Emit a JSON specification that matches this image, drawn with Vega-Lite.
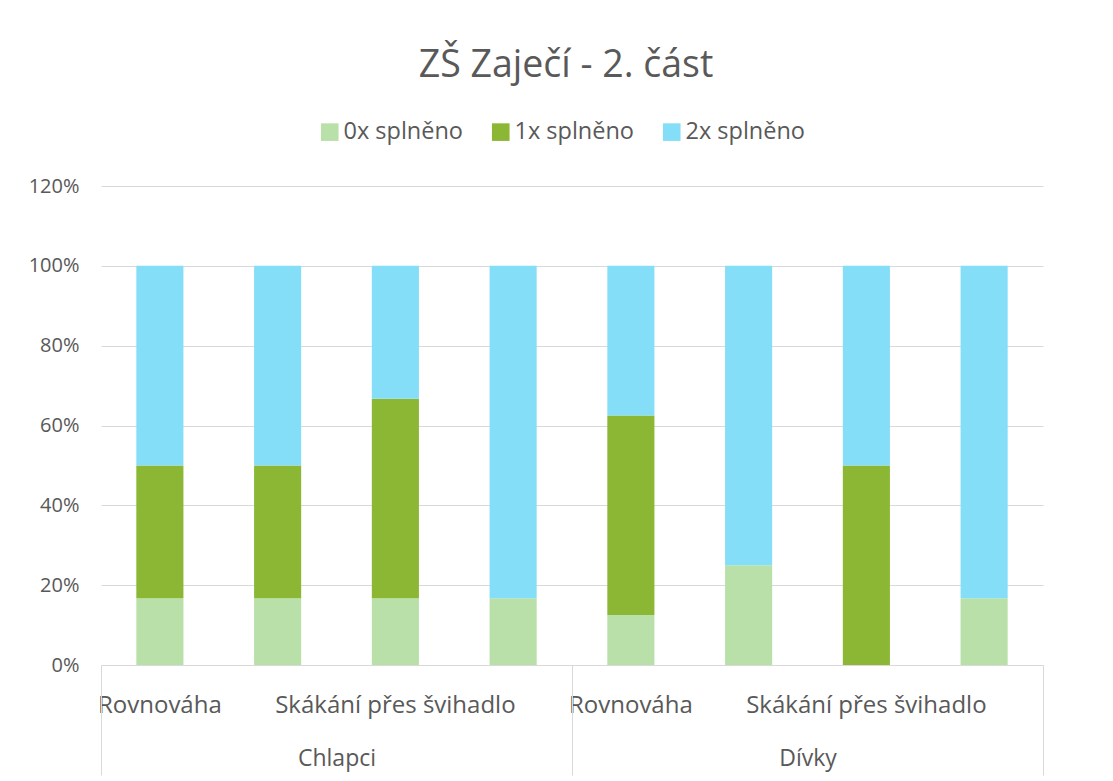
{
  "$schema": "https://vega.github.io/schema/vega-lite/v6.json",
  "width": 942,
  "height": 479,
  "autosize": {"type": "none"},
  "padding": {"left": 101, "top": 186, "right": 70, "bottom": 116},
  "background": "white",
  "title": {
    "text": "ZŠ Zaječí - 2. část",
    "fontSize": 37.5,
    "font": "Open Sans",
    "fontWeight": "normal",
    "color": "#595959",
    "anchor": "middle",
    "baseline": "alphabetic",
    "offset": 6,
    "dx": -6
  },
  "config": {
    "font": "Open Sans",
    "view": {"stroke": null},
    "axis": {"labelColor": "#595959", "labelFont": "Open Sans"}
  },
  "data": {
    "values": [
      {"skupina": "Chlapci", "poradi": 1, "serie": "0x splněno", "k": 0, "hodnota": 0.167},
      {"skupina": "Chlapci", "poradi": 1, "serie": "1x splněno", "k": 1, "hodnota": 0.333},
      {"skupina": "Chlapci", "poradi": 1, "serie": "2x splněno", "k": 2, "hodnota": 0.5},
      {"skupina": "Chlapci", "poradi": 2, "serie": "0x splněno", "k": 0, "hodnota": 0.167},
      {"skupina": "Chlapci", "poradi": 2, "serie": "1x splněno", "k": 1, "hodnota": 0.333},
      {"skupina": "Chlapci", "poradi": 2, "serie": "2x splněno", "k": 2, "hodnota": 0.5},
      {"skupina": "Chlapci", "poradi": 3, "serie": "0x splněno", "k": 0, "hodnota": 0.167},
      {"skupina": "Chlapci", "poradi": 3, "serie": "1x splněno", "k": 1, "hodnota": 0.5},
      {"skupina": "Chlapci", "poradi": 3, "serie": "2x splněno", "k": 2, "hodnota": 0.333},
      {"skupina": "Chlapci", "poradi": 4, "serie": "0x splněno", "k": 0, "hodnota": 0.167},
      {"skupina": "Chlapci", "poradi": 4, "serie": "1x splněno", "k": 1, "hodnota": 0},
      {"skupina": "Chlapci", "poradi": 4, "serie": "2x splněno", "k": 2, "hodnota": 0.833},
      {"skupina": "Dívky", "poradi": 5, "serie": "0x splněno", "k": 0, "hodnota": 0.125},
      {"skupina": "Dívky", "poradi": 5, "serie": "1x splněno", "k": 1, "hodnota": 0.5},
      {"skupina": "Dívky", "poradi": 5, "serie": "2x splněno", "k": 2, "hodnota": 0.375},
      {"skupina": "Dívky", "poradi": 6, "serie": "0x splněno", "k": 0, "hodnota": 0.25},
      {"skupina": "Dívky", "poradi": 6, "serie": "1x splněno", "k": 1, "hodnota": 0},
      {"skupina": "Dívky", "poradi": 6, "serie": "2x splněno", "k": 2, "hodnota": 0.75},
      {"skupina": "Dívky", "poradi": 7, "serie": "0x splněno", "k": 0, "hodnota": 0},
      {"skupina": "Dívky", "poradi": 7, "serie": "1x splněno", "k": 1, "hodnota": 0.5},
      {"skupina": "Dívky", "poradi": 7, "serie": "2x splněno", "k": 2, "hodnota": 0.5},
      {"skupina": "Dívky", "poradi": 8, "serie": "0x splněno", "k": 0, "hodnota": 0.167},
      {"skupina": "Dívky", "poradi": 8, "serie": "1x splněno", "k": 1, "hodnota": 0},
      {"skupina": "Dívky", "poradi": 8, "serie": "2x splněno", "k": 2, "hodnota": 0.833}
    ]
  },
  "layer": [
    {
      "mark": {"type": "bar"},
      "encoding": {
        "x": {
          "field": "poradi",
          "type": "ordinal",
          "scale": {"paddingInner": 0.6, "paddingOuter": 0.3},
          "axis": {
            "orient": "bottom",
            "title": null,
            "labelAngle": 0,
            "ticks": false,
            "domainColor": "#D9D9D9",
            "domainWidth": 1,
            "labelFontSize": 24,
            "labelPadding": 28,
            "labelLimit": 400,
            "labelOverlap": false,
            "labelBound": false,
            "labelExpr": "datum.value == 1 || datum.value == 5 ? 'Rovnováha' : (datum.value == 3 || datum.value == 7 ? 'Skákání přes švihadlo' : '')"
          }
        },
        "y": {
          "field": "hodnota",
          "type": "quantitative",
          "stack": "zero",
          "scale": {"domain": [0, 1.2], "nice": false},
          "axis": {
            "title": null,
            "values": [0, 0.2, 0.4, 0.6, 0.8, 1.0, 1.2],
            "format": ".0%",
            "domain": false,
            "ticks": false,
            "gridColor": "#D9D9D9",
            "gridWidth": 1,
            "labelFontSize": 20,
            "labelPadding": 22
          }
        },
        "color": {
          "field": "serie",
          "type": "nominal",
          "scale": {
            "domain": ["0x splněno", "1x splněno", "2x splněno"],
            "range": ["#B8E0A8", "#8BB735", "#85DEF8"]
          },
          "legend": {
            "title": null,
            "orient": "none",
            "direction": "horizontal",
            "legendX": 217,
            "legendY": -66,
            "symbolType": "square",
            "symbolSize": 310,
            "symbolStrokeWidth": 0,
            "symbolOpacity": 1,
            "labelFontSize": 23.5,
            "labelColor": "#595959",
            "labelOffset": 2,
            "columnPadding": 25,
            "labelLimit": 300
          }
        },
        "order": {"field": "k", "type": "quantitative", "sort": "ascending"}
      }
    },
    {
      "mark": {"type": "point", "opacity": 0},
      "encoding": {
        "x": {
          "field": "skupina",
          "type": "nominal",
          "scale": {"type": "band", "paddingInner": 0, "paddingOuter": 0},
          "axis": {
            "orient": "bottom",
            "title": null,
            "labelAngle": 0,
            "domain": false,
            "ticks": true,
            "tickBand": "extent",
            "tickSize": 110,
            "tickColor": "#D9D9D9",
            "tickWidth": 1,
            "labelFontSize": 23,
            "labelColor": "#595959",
            "labelPadding": -28,
            "grid": false
          }
        }
      }
    }
  ],
  "resolve": {"scale": {"x": "independent"}, "axis": {"x": "independent"}}
}
